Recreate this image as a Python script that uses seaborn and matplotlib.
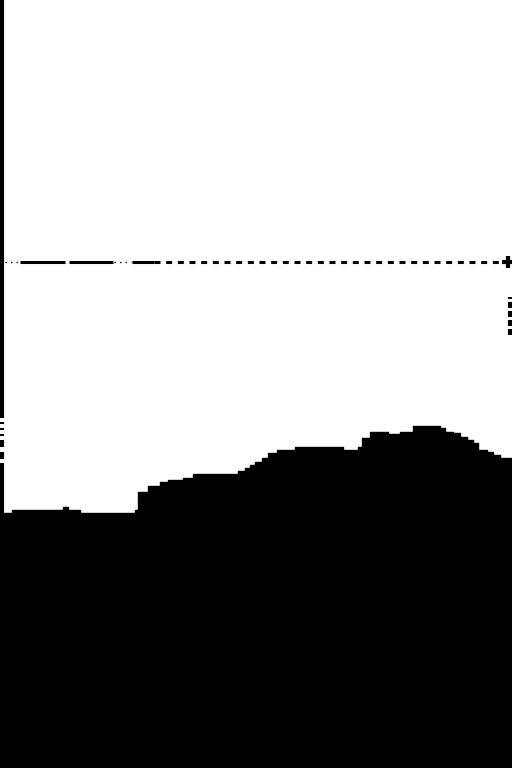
import matplotlib
matplotlib.use("Agg")
import matplotlib.pyplot as plt
import seaborn as sns
import pandas as pd
import numpy as np

# Step area profile: x start positions and heights (units from bottom)
step_x = [0, 12, 63, 68, 80, 135, 138, 148, 160, 168, 183, 193, 238, 245, 250, 255,
          262, 268, 277, 295, 343, 358, 362, 370, 388, 400, 413, 440, 445, 453,
          460, 467, 473, 478, 487, 493, 500, 512]
step_y = [255, 258, 261, 258, 255, 258, 276, 282, 286, 288, 290, 294, 297, 300, 303, 306,
          310, 315, 318, 321, 318, 321, 330, 336, 334, 336, 342, 340, 336, 335,
          331, 328, 325, 318, 316, 313, 310, 310]

ref_level = 506          # horizontal reference line
band_x = 510             # right-side band position
band_range = [433, 471]  # right-side band extent
left_gap = [305, 350]    # left-edge broken stretch
left_marks_lo = [309, 321, 332, 338, 344]
left_marks_hi = [316, 328, 334, 340, 346]

sns.set_theme(style="white")
plt.rcParams["lines.scale_dashes"] = False
fig = plt.figure(figsize=(5.12, 7.68), dpi=100)
ax = fig.add_axes([0, 0, 1, 1])
ax.set_xlim(0, 512)
ax.set_ylim(0, 768)
ax.axis("off")

df = pd.DataFrame({"x": step_x, "y": step_y})
ax.fill_between(df["x"], 0, df["y"], step="post", color="black", lw=0)
sns.lineplot(data=df, x="x", y="y", drawstyle="steps-post", color="black", lw=1, ax=ax)

# left spine-like line
ax.plot([1.5, 1.5], [0, left_gap[0]], color="black", lw=3, solid_capstyle="butt")
ax.plot([1.5, 1.5], [left_gap[1], 768], color="black", lw=3, solid_capstyle="butt")
for lo, hi in zip(left_marks_lo, left_marks_hi):
    ax.plot([1.5, 1.5], [lo, hi], color="black", lw=3, solid_capstyle="butt")

# horizontal reference line
ax.plot([20, 113], [ref_level] * 2, color="black", lw=2.2, ls=(0, (32.4, 2.9)),
        dash_capstyle="butt")
ax.plot([5, 20], [ref_level] * 2, color="black", lw=1, ls=(0, (1, 3)))
ax.plot([114, 131], [ref_level] * 2, color="black", lw=1, ls=(0, (1, 3)))
ax.plot([132, 154], [ref_level] * 2, color="black", lw=2.2, solid_capstyle="butt")
ax.plot([154, 505], [ref_level] * 2, color="black", lw=2.2, ls=(0, (4.3, 4.1)),
        dash_capstyle="butt")
ax.plot([508], [ref_level], marker="+", color="black", ms=9, mew=3)

# right-side dashed band
ax.plot([band_x] * 2, band_range, color="black", lw=3, ls=(0, (4.3, 2.2)),
        dash_capstyle="butt")

fig.savefig("out.png", dpi=100)
